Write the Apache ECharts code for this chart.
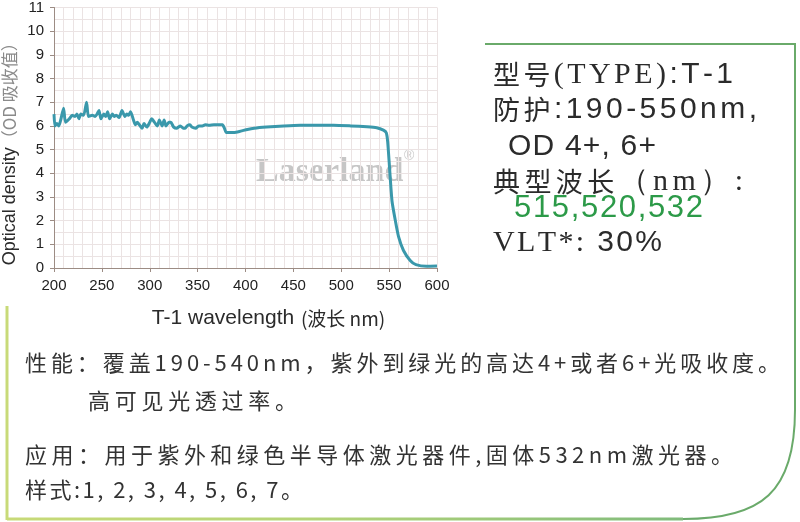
<!DOCTYPE html>
<html><head><meta charset="utf-8">
<script src="https://cdn.jsdelivr.net/npm/echarts@6/dist/echarts.min.js"></script>
<style>html,body{margin:0;padding:0;background:#fff}#c{width:800px;height:522px}</style>
</head><body><div id="c"></div>
<script>
// ---- data ----
const wavelength = [200,201,203,205,207,210,212,216,219,222,224,226,228,231,234,236,240,243,245,247,249,252,254,256,258,261,263,265,268,271,274,276,278,280,283,285,287,290,292,294,297,300,302,305,308,310,313,315,317,320,322,325,328,332,335,337,339,342,344,348,351,355,358,362,367,374,376,378,380,388,395,402,409,422,440,457,475,492,510,527,537,544,547,548.5,550.5,553,556.5,560,565,572,578,589,600];
const opticalDensity = [6.5,6.0,6.1,6.0,6.25,6.75,6.15,6.3,6.45,6.4,6.5,6.3,6.5,6.45,7.0,6.4,6.45,6.4,6.5,6.65,6.3,6.5,6.4,6.6,6.3,6.5,6.4,6.45,6.35,6.65,6.4,6.5,6.45,6.6,6.25,6.05,6.15,6.0,5.9,6.1,5.95,6.15,6.3,6.15,6.0,6.25,6.0,6.25,6.0,6.15,6.15,5.95,5.9,6.0,5.9,5.9,6.0,6.05,5.95,5.9,6.0,6.0,6.05,6.03,6.05,6.05,6.05,5.9,5.72,5.72,5.78,5.85,5.9,5.95,6.0,6.03,6.03,6.03,6.0,5.96,5.92,5.82,5.71,5.33,4.2,2.83,2.0,1.3,0.74,0.32,0.14,0.07,0.08];
const xAxisRange = [200, 600, 50];
const yAxisRange = [0, 11, 1];
const xAxisTitle = 'T-1 wavelength';
const xAxisTitleCn = '(波长 nm)';
const yAxisTitle = 'Optical density';
const yAxisTitleCn = '（OD 吸收值）';
const watermark = 'Laserland';
const specLines = [
  [['cjk','型号'],['serif','(TYPE)'],['sans',':T-1']],
  [['cjk','防护'],['sans',':190-550nm,']],
  [['sans','OD 4+, 6+']],
  [['cjk','典型波长'],['serif','（nm）:']],
  [['green','515,520,532']],
  [['serif','VLT*:'],['sans',' 30%']]
];
const noteLines = [
  '性能：覆盖190-540nm，紫外到绿光的高达4+或者6+光吸收度。',
  '高可见光透过率。',
  '应用：用于紫外和绿色半导体激光器件,固体532nm激光器。',
  '样式:1, 2, 3, 4, 5, 6, 7。'
];

// ---- layout helpers (text placement only) ----
const SANS = '"Liberation Sans", Arial, sans-serif';
const SERIF = '"Liberation Serif", "DejaVu Serif", serif';
const CJK = '"Noto Sans CJK SC", sans-serif';
const segStyles = {
  cjk:   {size: 27, family: CJK, color: '#2b2b2b', weight: 'normal'},
  serif: {size: 30, family: SERIF, color: '#2b2b2b', weight: 'normal'},
  sans:  {size: 30, family: SANS, color: '#2b2b2b', weight: 'normal'},
  green: {size: 31, family: SANS, color: '#2c9a48', weight: 'normal'},
  note:  {size: 22, family: CJK, color: '#333333', weight: 'normal'}
};
const mctx = document.createElement('canvas').getContext('2d');
function fontStr(s){ return s.weight + ' ' + s.size + 'px ' + s.family; }
function spaced(segs, x0, x1, y){
  const chars = [];
  segs.forEach(([k, t]) => {
    const s = segStyles[k];
    mctx.font = fontStr(s);
    for (const ch of t) chars.push({ch, s, w: mctx.measureText(ch).width});
  });
  const natural = chars.reduce((a, c) => a + c.w, 0);
  const gap = chars.length > 1 ? (x1 - x0 - natural) / (chars.length - 1) : 0;
  let x = x0; const out = [];
  chars.forEach(c => {
    if (c.ch !== ' ') out.push({type: 'text', x: x, y: y, silent: true, z: 10,
      style: {text: c.ch, font: fontStr(c.s), fill: c.s.color, verticalAlign: 'middle', align: 'left'}});
    x += c.w + gap;
  });
  return out;
}

const specPos = [[493,733,75],[493,757,110],[508,656,147],[493,743,182],[514,703,208],[493,662,243]];
const notePos = [[25,780,363],[88,297,401],[25,733,455],[25,303,490]];

let graphics = [];
specLines.forEach((l, i) => { graphics = graphics.concat(spaced(l, specPos[i][0], specPos[i][1], specPos[i][2])); });
noteLines.forEach((l, i) => { graphics = graphics.concat(spaced([['note', l]], notePos[i][0], notePos[i][1], notePos[i][2])); });

// frames
const green = '#6aaa6a', yellowGreen = '#c8da78';
graphics.push(
  {type:'polyline', silent:true, shape:{points:[[485,44],[795,44],[795,410]]}, style:{stroke:green, lineWidth:2, fill:null}},
  {type:'bezierCurve', silent:true, shape:{x1:795,y1:410,cpx1:795,cpy1:492,cpx2:762,cpy2:519,x2:683,y2:519}, style:{stroke:green, lineWidth:2, fill:null}},
  {type:'line', silent:true, shape:{x1:7,y1:519,x2:683,y2:519},
    style:{lineWidth:3, stroke:{type:'linear',x:0,y:0,x2:1,y2:0,colorStops:[{offset:0,color:yellowGreen},{offset:0.45,color:'#b5d478'},{offset:1,color:'#80bb7c'}]}}},
  {type:'line', silent:true, shape:{x1:7,y1:306,x2:7,y2:520}, style:{stroke:yellowGreen, lineWidth:3}},
  {type:'text', silent:true, z:-1, x:256, y:172, style:{text:watermark, font:'bold 34px ' + SERIF, fill:'#c6c6c6', verticalAlign:'middle', align:'left'}},
  {type:'text', silent:true, z:-1, x:404, y:156, style:{text:'®', font:'14px ' + SANS, fill:'#cccccc', verticalAlign:'middle', align:'left'}}
);

const chart = echarts.init(document.getElementById('c'), null, {renderer: 'canvas'});
const axisColor = '#9c8c84';
const gridColor = '#ebe3e3';
chart.setOption({
  animation: false,
  backgroundColor: '#ffffff',
  grid: {left: 53, right: 363, top: 4, bottom: 254, containLabel: false},
  xAxis: {
    type: 'value', min: xAxisRange[0], max: xAxisRange[1], interval: xAxisRange[2],
    name: '{a|' + xAxisTitle + '}  {b|' + xAxisTitleCn + '}', nameLocation: 'middle', nameGap: 40,
    nameTextStyle: {padding: [0, 0, 0, 46], rich: {
      a: {fontFamily: SANS, fontSize: 21, color: '#2b2b2b'},
      b: {fontFamily: CJK, fontSize: 19, color: '#2b2b2b'}}},
    axisLine: {show: true, lineStyle: {color: axisColor, width: 1}},
    axisTick: {show: true, inside: false, length: 4, lineStyle: {color: axisColor}},
    axisLabel: {fontFamily: SANS, fontSize: 15, color: '#222', margin: 10},
    splitLine: {show: true, lineStyle: {color: gridColor, width: 1}},
    minorTick: {show: false, splitNumber: 5},
    minorSplitLine: {show: true, lineStyle: {color: gridColor, width: 1}}
  },
  yAxis: {
    type: 'value', min: yAxisRange[0], max: yAxisRange[1], interval: yAxisRange[2],
    name: '{a|' + yAxisTitle + '}{b|' + yAxisTitleCn + '}', nameLocation: 'middle', nameGap: 35,
    nameTextStyle: {padding: [0, 24, 0, 0], rich: {
      a: {fontFamily: SANS, fontSize: 18, color: '#2b2b2b'},
      b: {fontFamily: CJK, fontSize: 17, color: '#8a8a8a'}}},
    axisLine: {show: true, lineStyle: {color: axisColor, width: 1}},
    axisTick: {show: true, inside: false, length: 4, lineStyle: {color: axisColor}},
    axisLabel: {fontFamily: SANS, fontSize: 15, color: '#222', margin: 10},
    splitLine: {show: true, lineStyle: {color: gridColor, width: 1}},
    minorTick: {show: false, splitNumber: 2},
    minorSplitLine: {show: true, lineStyle: {color: gridColor, width: 1}}
  },
  series: [{
    type: 'line', name: 'T-1',
    data: wavelength.map((w, i) => [w, opticalDensity[i]]),
    showSymbol: false, smooth: 0.2,
    lineStyle: {color: '#3a98ab', width: 3},
    z: 5
  }],
  graphic: graphics
});
</script></body></html>
